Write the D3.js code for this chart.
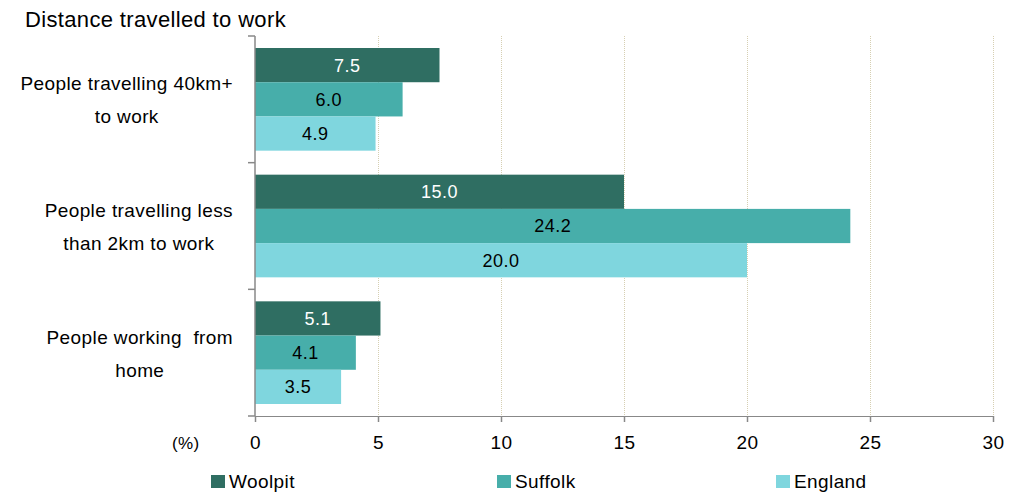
<!DOCTYPE html>
<html>
<head>
<meta charset="utf-8">
<script src="https://cdn.jsdelivr.net/npm/d3@7"></script>
<style>
  body { margin: 0; background: #fff; }
  text { font-family: "Liberation Sans", Arial, sans-serif; }
</style>
</head>
<body>
<div id="chart"></div>
<script>
// data
var categories = ["People travelling 40km+\nto work", "People travelling less\nthan 2km to work", "People working  from\nhome"];
var seriesNames = ["Woolpit", "Suffolk", "England"];
var woolpit = [7.5, 15.0, 5.1];
var suffolk = [6.0, 24.2, 4.1];
var england = [4.9, 20.0, 3.5];
var xTicks = [0, 5, 10, 15, 20, 25, 30];

var colors = ["#2f6e62", "#47aeaa", "#7fd6de"];
var labelColors = ["#fff", "#000", "#000"];
var seriesValues = [woolpit, suffolk, england];

var width = 1022, height = 493;
var margin = { top: 36, left: 255, right: 29, bottom: 77 };

var svg = d3.select("#chart").append("svg")
  .attr("width", width)
  .attr("height", height);

// title
svg.append("text")
  .attr("x", 25)
  .attr("y", 27)
  .style("font-size", "22px")
  .style("letter-spacing", "0.35px")
  .attr("fill", "#000")
  .text("Distance travelled to work");

var x = d3.scaleLinear()
  .domain([0, 30])
  .range([margin.left, width - margin.right]);

var y0 = d3.scaleBand()
  .domain(categories)
  .range([margin.top, height - margin.bottom])
  .padding(0);

var y1 = d3.scaleBand()
  .domain(seriesNames)
  .range([12, y0.bandwidth() - 12])
  .padding(0);

// gridlines
svg.append("g")
  .selectAll("line")
  .data(xTicks.slice(1))
  .enter().append("line")
  .attr("x1", function (d) { return x(d) + 0.5; })
  .attr("x2", function (d) { return x(d) + 0.5; })
  .attr("y1", margin.top)
  .attr("y2", height - margin.bottom)
  .attr("stroke", "#d6cfb2")
  .attr("stroke-width", 1)
  .attr("stroke-dasharray", "1,1");

// bars
categories.forEach(function (cat, i) {
  var g = svg.append("g").attr("transform", "translate(0," + y0(cat) + ")");
  seriesNames.forEach(function (s, j) {
    var v = seriesValues[j][i];
    g.append("rect")
      .attr("x", x(0))
      .attr("y", y1(s))
      .attr("width", x(v) - x(0))
      .attr("height", y1.bandwidth())
      .attr("fill", colors[j]);
    g.append("text")
      .attr("x", (x(0) + x(v)) / 2)
      .attr("y", y1(s) + y1.bandwidth() / 2 + 6.5)
      .attr("text-anchor", "middle")
      .style("font-size", "18px")
      .style("letter-spacing", "0.5px")
      .attr("fill", labelColors[j])
      .text(v.toFixed(1));
  });
});

// x axis
var xAxis = svg.append("g")
  .attr("transform", "translate(0," + (height - margin.bottom) + ")")
  .call(d3.axisBottom(x).tickValues(xTicks).tickSize(6).tickPadding(14));
xAxis.select(".domain").attr("stroke", "#888").attr("d", "M" + x(0) + ",0.5H" + x(30));
xAxis.selectAll(".tick line").attr("stroke", "#888").attr("stroke-width", 1.5);
xAxis.selectAll(".tick text")
  .style("font-family", "Liberation Sans, Arial, sans-serif")
  .style("font-size", "19px")
  .style("letter-spacing", "0.5px")
  .attr("fill", "#000");

// y axis
svg.append("line")
  .attr("x1", x(0)).attr("x2", x(0))
  .attr("y1", margin.top).attr("y2", height - margin.bottom)
  .attr("stroke", "#888").attr("stroke-width", 1.5);
var bounds = categories.map(function (c) { return y0(c); }).concat([height - margin.bottom]);
svg.append("g").selectAll("line")
  .data(bounds)
  .enter().append("line")
  .attr("x1", x(0) - 7).attr("x2", x(0))
  .attr("y1", function (d) { return d; })
  .attr("y2", function (d) { return d; })
  .attr("stroke", "#888").attr("stroke-width", 1.5);

// category labels
categories.forEach(function (cat) {
  var lines = cat.split("\n");
  var g = svg.append("g");
  var cy = y0(cat) + y0.bandwidth() / 2;
  var texts = lines.map(function (l, k) {
    return g.append("text")
      .attr("x", 0)
      .attr("y", cy - 9 + k * 33)
      .attr("text-anchor", "middle")
      .style("font-size", "19px")
      .style("letter-spacing", "0.4px")
      .style("white-space", "pre")
      .attr("xml:space", "preserve")
      .attr("fill", "#000")
      .text(l);
  });
  var maxW = d3.max(texts, function (t) { return t.node().getComputedTextLength(); });
  g.attr("transform", "translate(" + (233 - maxW / 2) + ",0)");
});

// (%) unit label
svg.append("text")
  .attr("x", 172)
  .attr("y", 449)
  .style("font-size", "17px")
  .style("letter-spacing", "0.3px")
  .attr("fill", "#000")
  .text("(%)");

// legend
var legendX = [211, 497, 776];
seriesNames.forEach(function (s, j) {
  svg.append("rect")
    .attr("x", legendX[j])
    .attr("y", 475)
    .attr("width", 14)
    .attr("height", 13)
    .attr("fill", colors[j]);
  svg.append("text")
    .attr("x", legendX[j] + 18)
    .attr("y", 488)
    .style("font-size", "19px")
    .style("letter-spacing", "0.4px")
    .attr("fill", "#000")
    .text(s);
});
</script>
</body>
</html>
